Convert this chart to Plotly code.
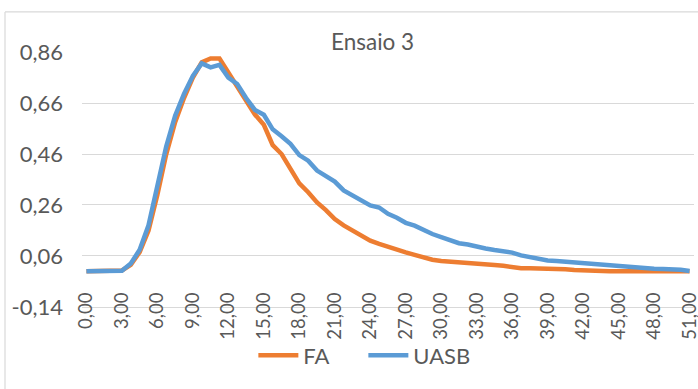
import plotly.graph_objects as go

tempo = [0, 0.75, 1.5, 2.25, 3, 3.75, 4.5, 5.25, 6, 6.75, 7.5, 8.25, 9, 9.75, 10.5, 11.25,
         12, 12.75, 13.5, 14.25, 15, 15.75, 16.5, 17.25, 18, 18.75, 19.5, 20.25, 21, 21.75,
         22.5, 23.25, 24, 24.75, 25.5, 26.25, 27, 27.75, 28.5, 29.25, 30, 30.75, 31.5, 32.25,
         33, 33.75, 34.5, 35.25, 36, 36.75, 37.5, 38.25, 39, 39.75, 40.5, 41.25, 42, 42.75,
         43.5, 44.25, 45, 45.75, 46.5, 47.25, 48, 48.75, 49.5, 50.25, 51]

fa = [0, 0, 0, 0, 0.003, 0.025, 0.075, 0.16, 0.30, 0.46, 0.585, 0.68, 0.76, 0.82, 0.835, 0.835,
      0.78, 0.72, 0.67, 0.615, 0.575, 0.495, 0.46, 0.40, 0.345, 0.31, 0.27, 0.24, 0.205, 0.18,
      0.16, 0.14, 0.12, 0.107, 0.095, 0.085, 0.074, 0.064, 0.054, 0.045, 0.04, 0.038, 0.035, 0.033,
      0.031, 0.027, 0.024, 0.021, 0.016, 0.012, 0.012, 0.012, 0.01, 0.009, 0.008, 0.005, 0.003, 0.002,
      0.001, 0, 0, 0, 0, 0, 0, 0, 0, 0, 0]

uasb = [0, 0, 0, 0, 0.002, 0.03, 0.084, 0.18, 0.334, 0.49, 0.61, 0.696, 0.767, 0.816, 0.80, 0.81,
        0.76, 0.735, 0.68, 0.633, 0.614, 0.557, 0.53, 0.50, 0.456, 0.434, 0.395, 0.372, 0.352, 0.317,
        0.298, 0.28, 0.258, 0.25, 0.225, 0.21, 0.19, 0.179, 0.16, 0.146, 0.134, 0.12, 0.11, 0.105,
        0.095, 0.089, 0.083, 0.078, 0.073, 0.062, 0.054, 0.047, 0.042, 0.04, 0.037, 0.034, 0.03, 0.028,
        0.026, 0.024, 0.022, 0.019, 0.015, 0.012, 0.01, 0.009, 0.008, 0.006, 0.001]

x_ticks = [0, 3, 6, 9, 12, 15, 18, 21, 24, 27, 30, 33, 36, 39, 42, 45, 48, 51]
x_labels = ["0,00", "3,00", "6,00", "9,00", "12,00", "15,00", "18,00", "21,00", "24,00",
            "27,00", "30,00", "33,00", "36,00", "39,00", "42,00", "45,00", "48,00", "51,00"]
y_ticks = [-0.14, 0.06, 0.26, 0.46, 0.66, 0.86]
y_labels = ["-0,14", "0,06", "0,26", "0,46", "0,66", "0,86"]

FONT = "Lato, 'Open Sans', sans-serif"
TXT = "#595959"
GRID = "#d9d9d9"

fig = go.Figure()
fig.add_trace(go.Scatter(x=tempo, y=fa, mode="lines", name="FA",
                         line=dict(color="#ED7D31", width=4.5, shape="linear")))
fig.add_trace(go.Scatter(x=tempo, y=uasb, mode="lines", name="UASB",
                         line=dict(color="#5B9BD5", width=4.5, shape="linear")))

fig.update_layout(
    template="none",
    width=698, height=389,
    margin=dict(l=82, r=4, t=52, b=82, autoexpand=False),
    paper_bgcolor="white", plot_bgcolor="white",
    font=dict(family=FONT, color=TXT, size=22),
    showlegend=True,
    legend=dict(orientation="h", x=0.28, xanchor="left", y=-0.19, yanchor="middle",
                font=dict(size=22, color=TXT), bgcolor="rgba(0,0,0,0)",
                itemwidth=40, tracegroupgap=0, entrywidth=55, entrywidthmode="pixels"),
    annotations=[dict(text="Ensaio 3", x=0.474, y=1.04, xref="paper", yref="paper",
                      showarrow=False, xanchor="center", yanchor="middle",
                      font=dict(size=22.5, color=TXT, family=FONT))],
    shapes=[
        dict(type="line", xref="paper", yref="paper", x0=-0.1258, x1=1.02, y0=1.157, y1=1.157,
             line=dict(color=GRID, width=1.2)),
        dict(type="line", xref="paper", yref="paper", x0=-0.1258, x1=-0.1258, y0=1.157, y1=-0.35,
             line=dict(color=GRID, width=1.2)),
    ],
)

fig.update_xaxes(range=[-0.375, 51.375], tickvals=x_ticks, ticktext=x_labels,
                 tickangle=-90, showgrid=False, zeroline=False, automargin=False,
                 showline=True, linecolor=GRID, linewidth=1.3,
                 ticks="", ticklabelstandoff=-23, ticklabeloverflow="allow",
                 tickfont=dict(size=18.5, color=TXT, family=FONT))
fig.update_yaxes(range=[-0.1405, 0.8605], tickvals=y_ticks, ticktext=y_labels,
                 showgrid=True, gridcolor=GRID, gridwidth=1.3, zeroline=False, automargin=False,
                 showline=False, ticks="", ticklabelstandoff=18,
                 tickfont=dict(size=22, color=TXT, family=FONT))

fig.write_html("out.html", config={"displayModeBar": False},
               post_script="document.body.style.margin='0';document.body.style.overflow='hidden';")
